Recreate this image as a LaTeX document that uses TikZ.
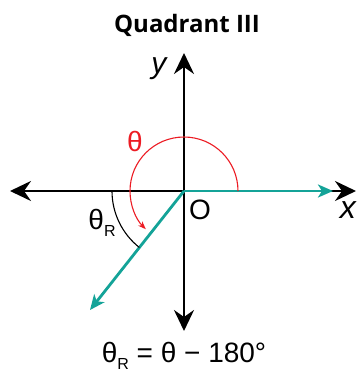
\documentclass[tikz,border=0pt]{standalone}
\usepackage{fontspec}
\setmainfont{Liberation Sans}
\newfontfamily\titlefont{Open Sans}
\usetikzlibrary{arrows.meta}
\definecolor{verdeacqua}{RGB}{20,163,152}
\definecolor{rosso}{RGB}{236,28,36}
\tikzset{
    asse/.style={line width=2.4pt, black, {Stealth[length=21pt,width=20pt,inset=7pt]}-{Stealth[length=21pt,width=20pt,inset=7pt]}},
    raggio/.style={line width=2.8pt, verdeacqua, -{Stealth[length=15pt,width=13pt,inset=4pt]}},
    etichetta/.style={font=\fontsize{28}{30}\selectfont, inner sep=0pt}
}
\begin{document}
\begin{tikzpicture}[x=1pt, y=1pt]
        \useasboundingbox (-184,-182) rectangle (174,191);
        % NODI
        \coordinate (o) at (0,0);
        \coordinate (xsx) at (-174,0);
        \coordinate (xdx) at (172,0);
        \coordinate (ysu) at (0,138);
        \coordinate (ygiu) at (0,-140);
        \coordinate (fine1) at (149,0);
        \coordinate (fine2) at (-94,-119);
        \node[font=\titlefont\bfseries\fontsize{24}{26}\selectfont] (titolo) at (3,166) {Quadrant III};
        \node[etichetta, font=\itshape\fontsize{30}{32}\selectfont] (ylab) at (-25,122) {y};
        \node[etichetta, font=\itshape\fontsize{32}{34}\selectfont] (xlab) at (164,-19) {x};
        \node[etichetta] (olab) at (16,-19) {O};
        \node[etichetta, rosso] (teta) at (-49,50) {θ};
        \node[etichetta] (tetar) at (-82,-32) {θ\raisebox{-0.25em}{\fontsize{16}{18}\selectfont R}};
        \node[etichetta] (formula) at (0,-165) {θ\raisebox{-0.25em}{\fontsize{16}{18}\selectfont R} = θ − 180°};

        % ASSI
        \draw[asse] (xsx) -- (xdx);
        \draw[asse] (ygiu) -- (ysu);

        % RAGGI
        \draw[raggio] (o) -- (fine1);
        \draw[raggio] (o) -- (fine2);

        % ARCHI
        \draw[rosso, line width=1.1pt, -{Stealth[length=8pt,width=6pt]}] (54,0) arc[start angle=0, end angle=225, radius=54];
        \draw[line width=1.1pt] (-72,0) arc[start angle=180, end angle=231.7, radius=72];
    \end{tikzpicture}
\end{document}
